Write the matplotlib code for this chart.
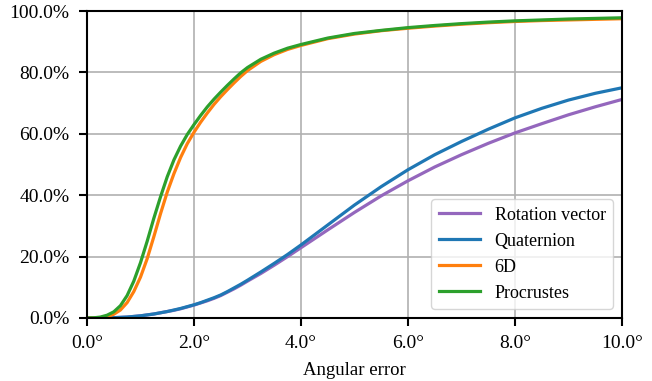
import matplotlib
matplotlib.use('Agg')
import matplotlib.pyplot as plt
from matplotlib.ticker import FuncFormatter

plt.rcParams['font.family'] = ['Liberation Serif', 'DejaVu Serif']
plt.rcParams['font.size'] = 14

# angular error (degrees) and cumulative fraction of samples (%)
angles = [0, 0.125, 0.25, 0.375, 0.5, 0.625, 0.75, 0.875, 1.0, 1.125, 1.25,
          1.375, 1.5, 1.625, 1.75, 1.875, 2.0, 2.125, 2.25, 2.375, 2.5, 2.625,
          2.75, 2.875, 3.0, 3.25, 3.5, 3.75, 4.0, 4.5, 5.0, 5.5, 6.0, 6.5,
          7.0, 7.5, 8.0, 8.5, 9.0, 9.5, 10.0]

rotation_vector = [0, 0, 0, 0.05, 0.1, 0.2, 0.3, 0.5, 0.7, 1.0, 1.3,
                   1.7, 2.1, 2.5, 3.0, 3.6, 4.2, 4.9, 5.6, 6.4, 7.3, 8.4,
                   9.5, 10.7, 12.0, 14.5, 17.2, 20.0, 22.9, 28.7, 34.4, 39.8,
                   44.7, 49.2, 53.2, 56.9, 60.3, 63.3, 66.2, 68.8, 71.2]
quaternion = [0, 0, 0, 0.05, 0.1, 0.2, 0.3, 0.5, 0.7, 1.0, 1.3,
              1.7, 2.1, 2.6, 3.1, 3.7, 4.3, 5.0, 5.8, 6.6, 7.5, 8.6,
              9.8, 11.0, 12.3, 15.0, 17.8, 20.7, 23.8, 30.3, 36.8, 42.8,
              48.3, 53.2, 57.5, 61.5, 65.2, 68.3, 71.0, 73.2, 75.0]
six_d = [0, 0, 0.1, 0.4, 1.2, 2.6, 5.0, 8.6, 13.3, 19.3, 26.5,
         34.0, 41.0, 47.0, 52.3, 56.8, 60.5, 63.8, 66.8, 69.6, 72.1, 74.4,
         76.6, 78.7, 80.6, 83.6, 85.8, 87.5, 88.8, 91.0, 92.5, 93.6,
         94.4, 95.1, 95.7, 96.2, 96.6, 96.9, 97.1, 97.3, 97.5]
procrustes = [0, 0.05, 0.3, 0.9, 2.0, 4.0, 7.3, 12.0, 18.0, 25.0, 32.5,
              39.5, 46.0, 51.5, 56.0, 59.8, 63.0, 66.0, 68.8, 71.3, 73.6, 75.8,
              77.9, 79.9, 81.6, 84.3, 86.3, 87.9, 89.1, 91.2, 92.7, 93.7,
              94.6, 95.3, 95.9, 96.4, 96.8, 97.1, 97.4, 97.6, 97.8]

fig = plt.figure(figsize=(6.52, 3.81), dpi=100)
ax = fig.add_axes([0.1334, 0.1654, 0.8206, 0.8056])

ax.plot(angles, rotation_vector, color='tab:purple', lw=2.3, label='Rotation vector')
ax.plot(angles, quaternion, color='tab:blue', lw=2.3, label='Quaternion')
ax.plot(angles, six_d, color='tab:orange', lw=2.3, label='6D')
ax.plot(angles, procrustes, color='tab:green', lw=2.3, label='Procrustes')

ax.set_xlim(0, 10)
ax.set_ylim(0, 100)
ax.set_xticks([0, 2, 4, 6, 8, 10])
ax.set_yticks([0, 20, 40, 60, 80, 100])
ax.xaxis.set_major_formatter(FuncFormatter(lambda v, p: f'{v:.1f}°'))
ax.yaxis.set_major_formatter(FuncFormatter(lambda v, p: f'{v:.1f}%'))
ax.grid(True, color='#b0b0b0', lw=1.2)
ax.set_axisbelow(True)
for s in ax.spines.values():
    s.set_linewidth(1.5)
ax.tick_params(width=1.5, length=6, pad=6.5)
ax.set_xlabel('Angular error', fontsize=13.5, labelpad=7)

ax.legend(loc='lower right', fontsize=13, handlelength=2.3)

fig.savefig('out.png', dpi=100)
